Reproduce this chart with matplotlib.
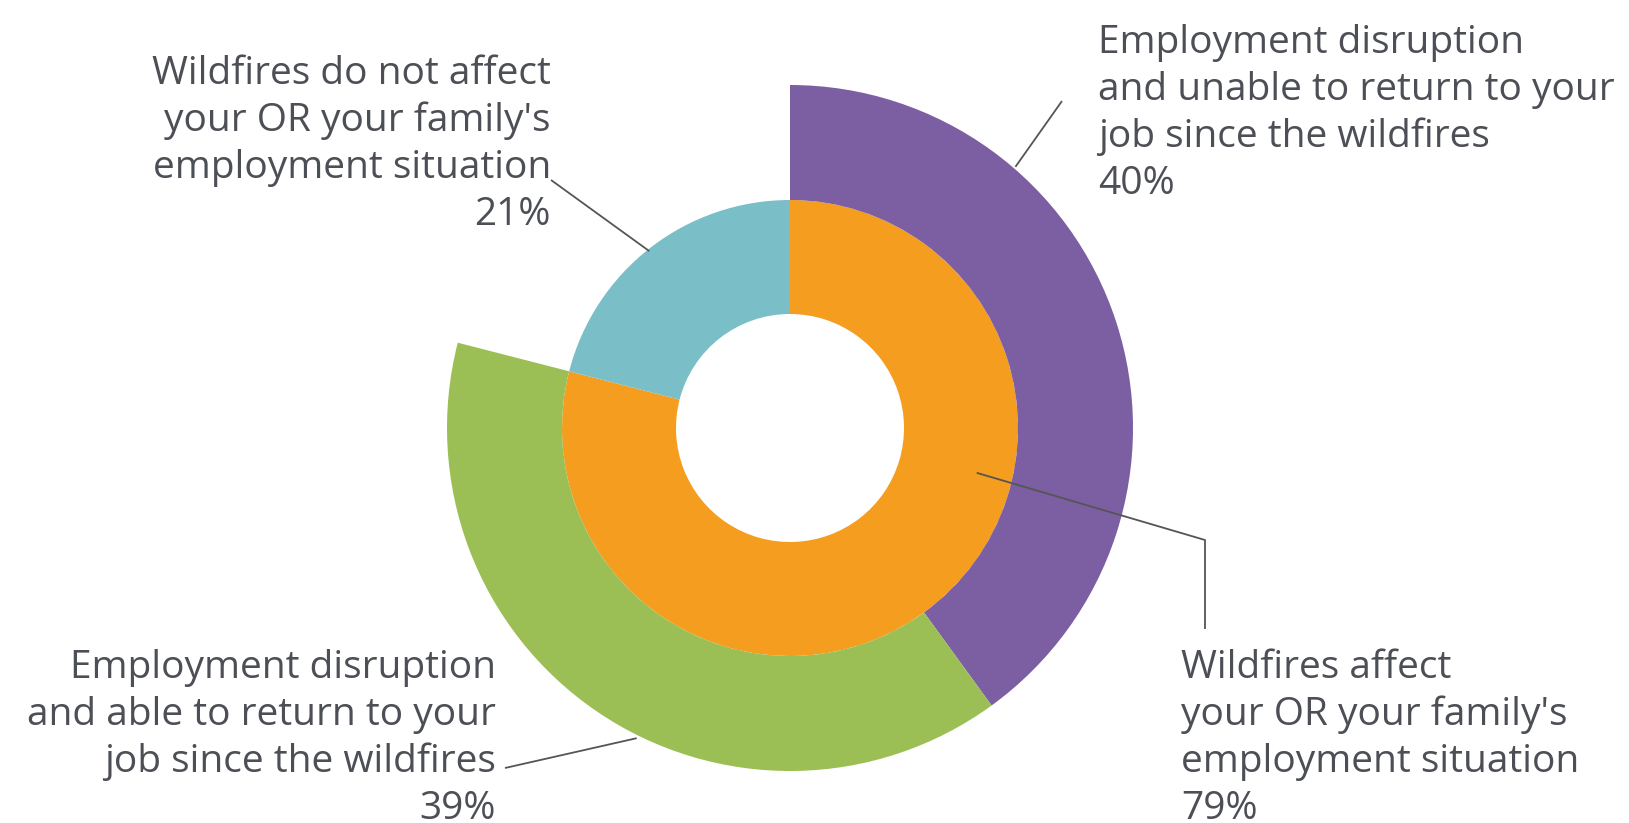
import numpy as np
import matplotlib
matplotlib.use("Agg")
import matplotlib.pyplot as plt

plt.rcParams['font.family'] = ['Open Sans', 'DejaVu Sans']

# inner ring: affected vs not affected
inner_labels = ["Wildfires affect\nyour OR your family's\nemployment situation",
                "Wildfires do not affect\nyour OR your family's\nemployment situation"]
inner_values = [79, 21]
inner_colors = ['#F49D1E', '#7ABFC8']

# outer ring: split of the affected group
outer_labels = ["Employment disruption\nand unable to return to your\njob since the wildfires",
                "Employment disruption\nand able to return to your\njob since the wildfires"]
outer_values = [40, 39]
outer_colors = ['#7C5FA2', '#9CBF55']

W, H = 1629, 823
cx, cy = 790, H - 428
r_hole, r_mid, r_out = 114, 228, 343
text_color = '#4C4F55'
line_color = '#555555'

fig = plt.figure(figsize=(W / 100, H / 100), dpi=100)
ax = fig.add_axes([0, 0, 1, 1])

ax.pie(inner_values, colors=inner_colors, radius=r_mid, center=(cx, cy),
       startangle=90, counterclock=False,
       wedgeprops=dict(width=r_mid - r_hole, linewidth=0))
ax.pie([v / 100 for v in outer_values], colors=outer_colors, radius=r_out,
       center=(cx, cy), startangle=90, counterclock=False, normalize=False,
       wedgeprops=dict(width=r_out - r_mid, linewidth=0))

ax.set_xlim(0, W)
ax.set_ylim(0, H)
ax.set_aspect('equal')
ax.axis('off')


def polar(angle, r):
    # angle in degrees, clockwise from 12 o'clock
    a = np.deg2rad(angle)
    return cx + r * np.sin(a), cy + r * np.cos(a)


fs = 28
ls = 1.3

# leader lines: (anchor angle, anchor radius, path to text)
leaders = [
    (321.5, 226, [(551, H - 180)]),
    (40.8, 345, [(1062, H - 101)]),
    (206.3, 346, [(505, H - 768)]),
    (103.5, 192, [(1205, H - 540), (1205, H - 629)]),
]
for ang, r, path in leaders:
    x0, y0 = polar(ang, r)
    xs = [x0] + [p[0] for p in path]
    ys = [y0] + [p[1] for p in path]
    ax.plot(xs, ys, color=line_color, lw=1.3, solid_capstyle='butt')

ax.text(551, H - 55, f"{inner_labels[1]}\n{inner_values[1]}%", ha='right', va='top',
        fontsize=fs, color=text_color, linespacing=ls)
ax.text(1098, H - 24, f"{outer_labels[0]}\n{outer_values[0]}%", ha='left', va='top',
        fontsize=fs, color=text_color, linespacing=ls)
ax.text(496, H - 649, f"{outer_labels[1]}\n{outer_values[1]}%", ha='right', va='top',
        fontsize=fs, color=text_color, linespacing=ls)
ax.text(1181, H - 649, f"{inner_labels[0]}\n{inner_values[0]}%", ha='left', va='top',
        fontsize=fs, color=text_color, linespacing=ls)

fig.savefig('out.png', dpi=100, facecolor='white')
